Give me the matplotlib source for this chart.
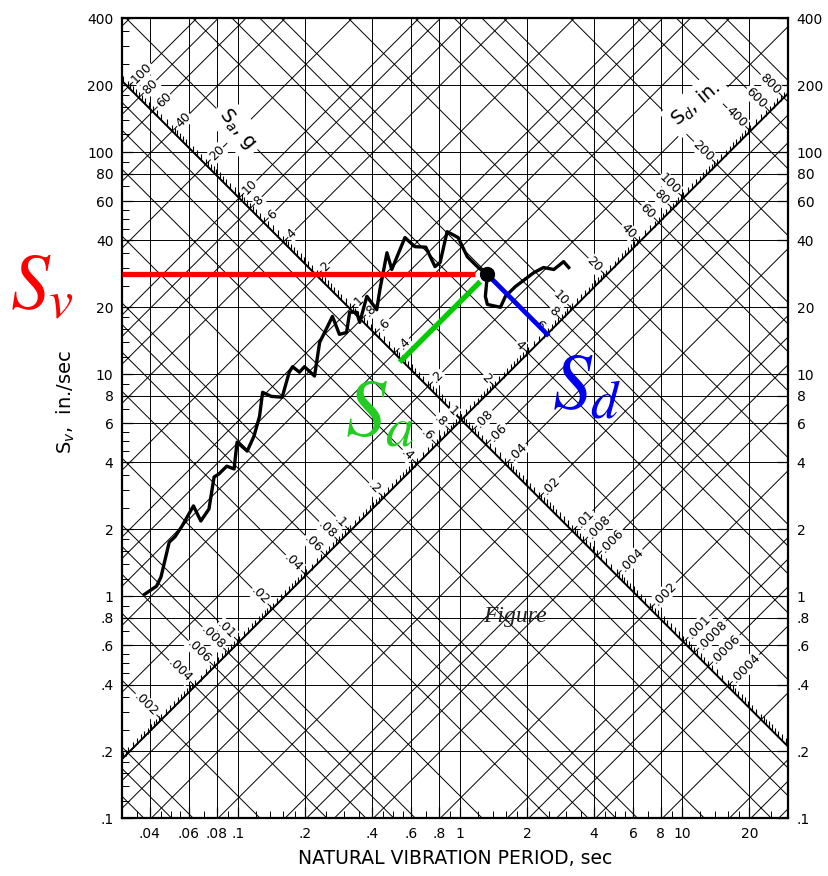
import numpy as np
import matplotlib.pyplot as plt
from matplotlib.path import Path
from matplotlib.ticker import FixedLocator, NullFormatter

g = 386.1          # in/sec^2
tp = 2 * np.pi

# response spectrum (period sec, pseudo-velocity in/sec)
period = [0.038, 0.043, 0.045, 0.049, 0.052, 0.056, 0.063, 0.068, 0.074, 0.078,
          0.082, 0.089, 0.096, 0.099, 0.110, 0.118, 0.125, 0.129, 0.141, 0.158,
          0.170, 0.176, 0.189, 0.199, 0.221, 0.233, 0.253, 0.266, 0.286, 0.308,
          0.318, 0.342, 0.353, 0.380, 0.421, 0.435, 0.468, 0.492, 0.564, 0.625,
          0.70, 0.770, 0.812, 0.873, 0.929, 0.979, 1.076, 1.206, 1.325, 1.298,
          1.325, 1.517, 1.598, 1.773, 2.14, 2.37, 2.64, 2.92, 3.08]
sv = [1.02, 1.11, 1.22, 1.75, 1.85, 2.07, 2.55, 2.18, 2.47, 3.44,
      3.55, 3.85, 3.74, 4.94, 4.50, 5.26, 6.46, 8.28, 7.94, 7.87,
      10.2, 10.8, 10.2, 10.8, 9.8, 13.9, 16.4, 18.2, 15.1, 15.4,
      19.0, 19.0, 17.1, 22.4, 19.5, 24.0, 35.2, 29.6, 41.2, 37.5,
      37.3, 30.5, 31.8, 43.8, 42.4, 41.2, 33.8, 30.2, 28.1, 22.4,
      20.6, 20.0, 22.4, 24.8, 28.6, 30.2, 29.6, 32.1, 30.2]

# marked point
t_pt, sv_pt = 1.325, 28.1

x_ticks = [0.04, 0.06, 0.08, 0.1, 0.2, 0.4, 0.6, 0.8, 1, 2, 4, 6, 8, 10, 20]
x_labels = ['.04', '.06', '.08', '.1', '.2', '.4', '.6', '.8', '1', '2', '4', '6', '8', '10', '20']
y_ticks = [0.1, 0.2, 0.4, 0.6, 0.8, 1, 2, 4, 6, 8, 10, 20, 40, 60, 80, 100, 200, 400]
y_labels = ['.1', '.2', '.4', '.6', '.8', '1', '2', '4', '6', '8', '10', '20', '40', '60', '80', '100', '200', '400']

sa_labels = [100, 80, 60, 40, 20, 10, 8, 6, 4, 2, 1, .8, .6, .4, .2, .08, .06, .04, .02,
             .01, .008, .006, .004, .002, .001, .0008, .0006, .0004]
sd_labels = [.002, .004, .006, .008, .01, .02, .04, .06, .08, .1, .2, .4, .6, .8, 1, 2, 4,
             6, 8, 10, 20, 40, 60, 80, 100, 200, 400, 600, 800]

grid_steps = [1, 2, 4, 6, 8]
sa_axis_sd = 1.0     # the Sa scale runs along Sd = 1 in.
sd_axis_sa = 0.1     # the Sd scale runs along Sa = 0.1 g


def fmt(v):
    s = '%g' % v
    return s[1:] if s.startswith('0.') else s


def on_sd_line(a, d):
    # point where Sa = a (g) meets Sd = d (in.)
    return tp * np.sqrt(d / (a * g)), np.sqrt(a * g * d)


xmin, xmax, ymin, ymax = 0.03, 30, 0.1, 400

fig = plt.figure(figsize=(8.29, 8.76), dpi=100)
ax = fig.add_axes([0.147, 0.066, 0.804, 0.913])
ax.set_xscale('log')
ax.set_yscale('log')

gl = dict(color='k', lw=0.7, zorder=1)
for t in x_ticks:
    ax.axvline(t, **gl)
for v in y_ticks[1:-1]:
    ax.axhline(v, **gl)

tt = np.array([0.005, 200])
decs = [10.0 ** k for k in range(-6, 4)]
for dd in decs:
    for s in grid_steps:
        ax.plot(tt, s * dd * g * tt / tp, **gl)      # constant Sa
        ax.plot(tt, tp * s * dd / tt, **gl)          # constant Sd

# the two diagonal scales
ax.plot(tt, tp * sa_axis_sd / tt, color='k', lw=1.4, zorder=2)
ax.plot(tt, sd_axis_sa * g * tt / tp, color='k', lw=1.4, zorder=2)

steps = list(np.arange(1, 2, 0.1)) + list(np.arange(2, 4, 0.2)) + list(np.arange(4, 10, 0.5))
tick_vals = np.array([s * dd for dd in decs for s in steps])
tick_mark = Path([[0, 0], [0, 1]])
ta, sa_ = on_sd_line(tick_vals, sa_axis_sd)
ax.plot(ta, sa_, ls='none', marker=tick_mark, ms=9, mew=0.8, color='k', zorder=2)
td = tp * np.sqrt(tick_vals / (sd_axis_sa * g))
sd_ = np.sqrt(sd_axis_sa * g * tick_vals)
ax.plot(td, sd_, ls='none', marker=tick_mark, ms=9, mew=0.8, color='k', zorder=2)

box = dict(fc='white', ec='none', pad=0.6)
for a in sa_labels:
    t, v = on_sd_line(a, sa_axis_sd)
    ax.annotate(fmt(a), (t, v), xytext=(4, 4), textcoords='offset points',
                rotation=45, rotation_mode='anchor', ha='left', va='center',
                fontsize=9, bbox=box, zorder=3, annotation_clip=True)
for d in sd_labels:
    t = tp * np.sqrt(d / (sd_axis_sa * g))
    v = np.sqrt(sd_axis_sa * g * d)
    ax.annotate(fmt(d), (t, v), xytext=(-4, 4), textcoords='offset points',
                rotation=-45, rotation_mode='anchor', ha='right', va='center',
                fontsize=9, bbox=box, zorder=3, annotation_clip=True)

ax.text(0.173, 0.862, 'S$_a$, g', transform=ax.transAxes, rotation=-50, fontsize=14,
        ha='center', va='center', bbox=dict(fc='white', ec='none', pad=4), zorder=3)
ax.text(0.862, 0.893, 'S$_d$, in.', transform=ax.transAxes, rotation=40, fontsize=14,
        ha='center', va='center', bbox=dict(fc='white', ec='none', pad=4), zorder=3)

# spectrum
ax.plot(period, sv, color='k', lw=2.4, zorder=4)

# reading lines for the marked point
sa_pt = tp * sv_pt / (t_pt * g)
sd_pt = sv_pt * t_pt / tp
ax.plot([xmin, t_pt * 0.88], [sv_pt, sv_pt], color='#ff0000', lw=3.8, zorder=5,
        solid_capstyle='butt')
t0, _ = on_sd_line(sa_pt, sa_axis_sd)
t_green = np.array([t0, t_pt * 0.91])
ax.plot(t_green, sa_pt * g * t_green / tp, color='#00cc00', lw=3.8, zorder=5)
t1 = tp * np.sqrt(sd_pt / (sd_axis_sa * g))
t_blue = np.array([t_pt * 1.01, t1])
ax.plot(t_blue, tp * sd_pt / t_blue, color='#0000ee', lw=3.4, zorder=5)
ax.plot([t_pt], [sv_pt], 'o', color='k', ms=10, zorder=6)

ax.set_xlim(xmin, xmax)
ax.set_ylim(ymin, ymax)

ax.set_xticks(x_ticks, x_labels)
ax.set_yticks(y_ticks, y_labels)
minor_steps = [1.2, 1.4, 1.6, 1.8, 2.5, 3, 3.5, 4.5, 5, 5.5, 7, 9]
minors = [s * dd for dd in decs for s in minor_steps]
ax.xaxis.set_minor_locator(FixedLocator(minors))
ax.yaxis.set_minor_locator(FixedLocator(minors))
ax.xaxis.set_minor_formatter(NullFormatter())
ax.yaxis.set_minor_formatter(NullFormatter())
ax.tick_params(which='major', direction='in', length=8, width=0.9, labelsize=10,
               left=True, right=True, labelright=True, pad=6)
ax.tick_params(which='minor', direction='in', length=5, width=0.7, left=True, right=False)
for sp in ax.spines.values():
    sp.set_linewidth(1.6)

ax.set_xlabel('NATURAL VIBRATION PERIOD, sec', fontsize=13.5)
ax.xaxis.set_label_coords(0.5, -0.039)
ax.set_ylabel('S$_v$,  in./sec', fontsize=14)
ax.yaxis.set_label_coords(-0.068, 0.52)

# coloured annotations
fig.text(10 / 829, 1 - 308 / 876, '$S_v$', color='#ff0000', fontsize=56,
         math_fontfamily='stix', ha='left', va='baseline')
fig.text(345 / 829, 1 - 437 / 876, '$S_a$', color='#22cc22', fontsize=58,
         math_fontfamily='stix', ha='left', va='baseline')
fig.text(552 / 829, 1 - 408 / 876, '$S_d$', color='#0000ee', fontsize=56,
         math_fontfamily='stix', ha='left', va='baseline')
fig.text(483 / 829, 1 - 622 / 876, 'Figure', family='Liberation Serif', style='italic',
         fontsize=17, color='#222222', ha='left', va='baseline')

fig.savefig('out.png', dpi=100, facecolor='white')
